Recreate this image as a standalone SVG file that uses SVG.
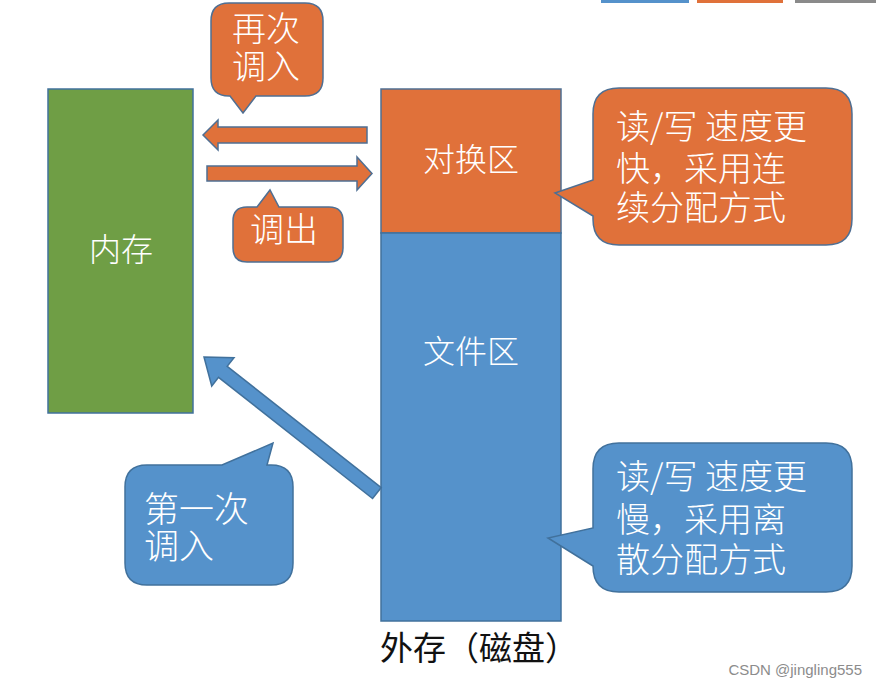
<svg xmlns="http://www.w3.org/2000/svg" width="876" height="693" viewBox="0 0 876 693">
<style>
.t{font-family:"Noto Sans CJK SC","Noto Sans",sans-serif;fill:#fff;font-weight:300}
.or{fill:#e0713a;stroke:#4f6f93;stroke-width:1.5}
.bl{fill:#5592cb;stroke:#41719c;stroke-width:1.5}
.gr{fill:#6f9e45;stroke:#41719c;stroke-width:1.5}
</style>
<rect width="876" height="693" fill="#fff"/>
<g id="topbars">
<rect x="601" y="0" width="88" height="3" fill="#5592cb"/>
<rect x="697" y="0" width="86" height="3" fill="#e0713a"/>
<rect x="795" y="0" width="81" height="3" fill="#8a8a8a"/>
</g>
<g id="memory">
<rect class="gr" x="48" y="89" width="145" height="324"/>
<text class="t" x="121" y="261" font-size="32" text-anchor="middle">内存</text>
</g>
<g id="swap">
<rect class="or" x="381" y="89" width="180" height="144"/>
<text class="t" x="471" y="171" font-size="32" text-anchor="middle">对换区</text>
</g>
<g id="file">
<rect class="bl" x="381" y="233" width="180" height="388"/>
<text class="t" x="471" y="363" font-size="32" text-anchor="middle">文件区</text>
</g>
<g id="connectors">
<polygon class="or" points="203,135 218,120 218,127 367,127 367,143 218,143 218,150"/>
<polygon class="or" points="207,166 357,166 357,157 372,173.5 357,190 357,181 207,181"/>
<polygon class="bl" transform="translate(204,357) rotate(38.2)" points="0,0 24,-18 24,-7 220,-7 220,7 24,7 24,18"/>
</g>
<g id="callout-reload">
<path class="or" d="M229,3 H305 Q323,3 323,21 V78 Q323,96 305,96 H256 L243,113 L230,96 H229 Q211,96 211,78 V21 Q211,3 229,3 Z"/>
<text class="t" x="266" y="41" font-size="34" text-anchor="middle">再次</text>
<text class="t" x="266" y="79" font-size="34" text-anchor="middle">调入</text>
</g>
<g id="callout-out">
<path class="or" d="M247,207 H257 L270,190 L279,207 H329 Q343,207 343,221 V248 Q343,262 329,262 H247 Q233,262 233,248 V221 Q233,207 247,207 Z"/>
<text class="t" x="284" y="242" font-size="34" text-anchor="middle">调出</text>
</g>
<g id="callout-swap">
<path class="or" d="M619,88 H826 Q852,88 852,114 V219 Q852,245 826,245 H619 Q593,245 593,219 V216 L555,193 L593,180 V114 Q593,88 619,88 Z"/>
<text class="t" x="616" y="139" font-size="34">读/写 速度更</text>
<text class="t" x="616" y="181" font-size="34">快，采用连</text>
<text class="t" x="616" y="220" font-size="34">续分配方式</text>
</g>
<g id="callout-file">
<path class="bl" d="M619,443 H826 Q852,443 852,469 V566 Q852,592 826,592 H619 Q593,592 593,566 L548,538 L593,528 V469 Q593,443 619,443 Z"/>
<text class="t" x="616" y="489" font-size="34">读/写 速度更</text>
<text class="t" x="616" y="532" font-size="34">慢，采用离</text>
<text class="t" x="616" y="572" font-size="34">散分配方式</text>
</g>
<g id="callout-first">
<path class="bl" d="M147,465 H222 L273,443 L267,465 H271 Q293,465 293,487 V563 Q293,585 271,585 H147 Q125,585 125,563 V487 Q125,465 147,465 Z"/>
<text class="t" x="144" y="522" font-size="35">第一次</text>
<text class="t" x="144" y="559" font-size="35">调入</text>
</g>
<g id="label-disk">
<text x="380" y="660" font-size="33" font-family="'Noto Sans CJK SC',sans-serif" fill="#111">外存（磁盘）</text>
</g>
<text x="862" y="675" font-size="15" text-anchor="end" font-family="'Liberation Sans',sans-serif" fill="#8c8c8c">CSDN @jingling555</text>
</svg>
